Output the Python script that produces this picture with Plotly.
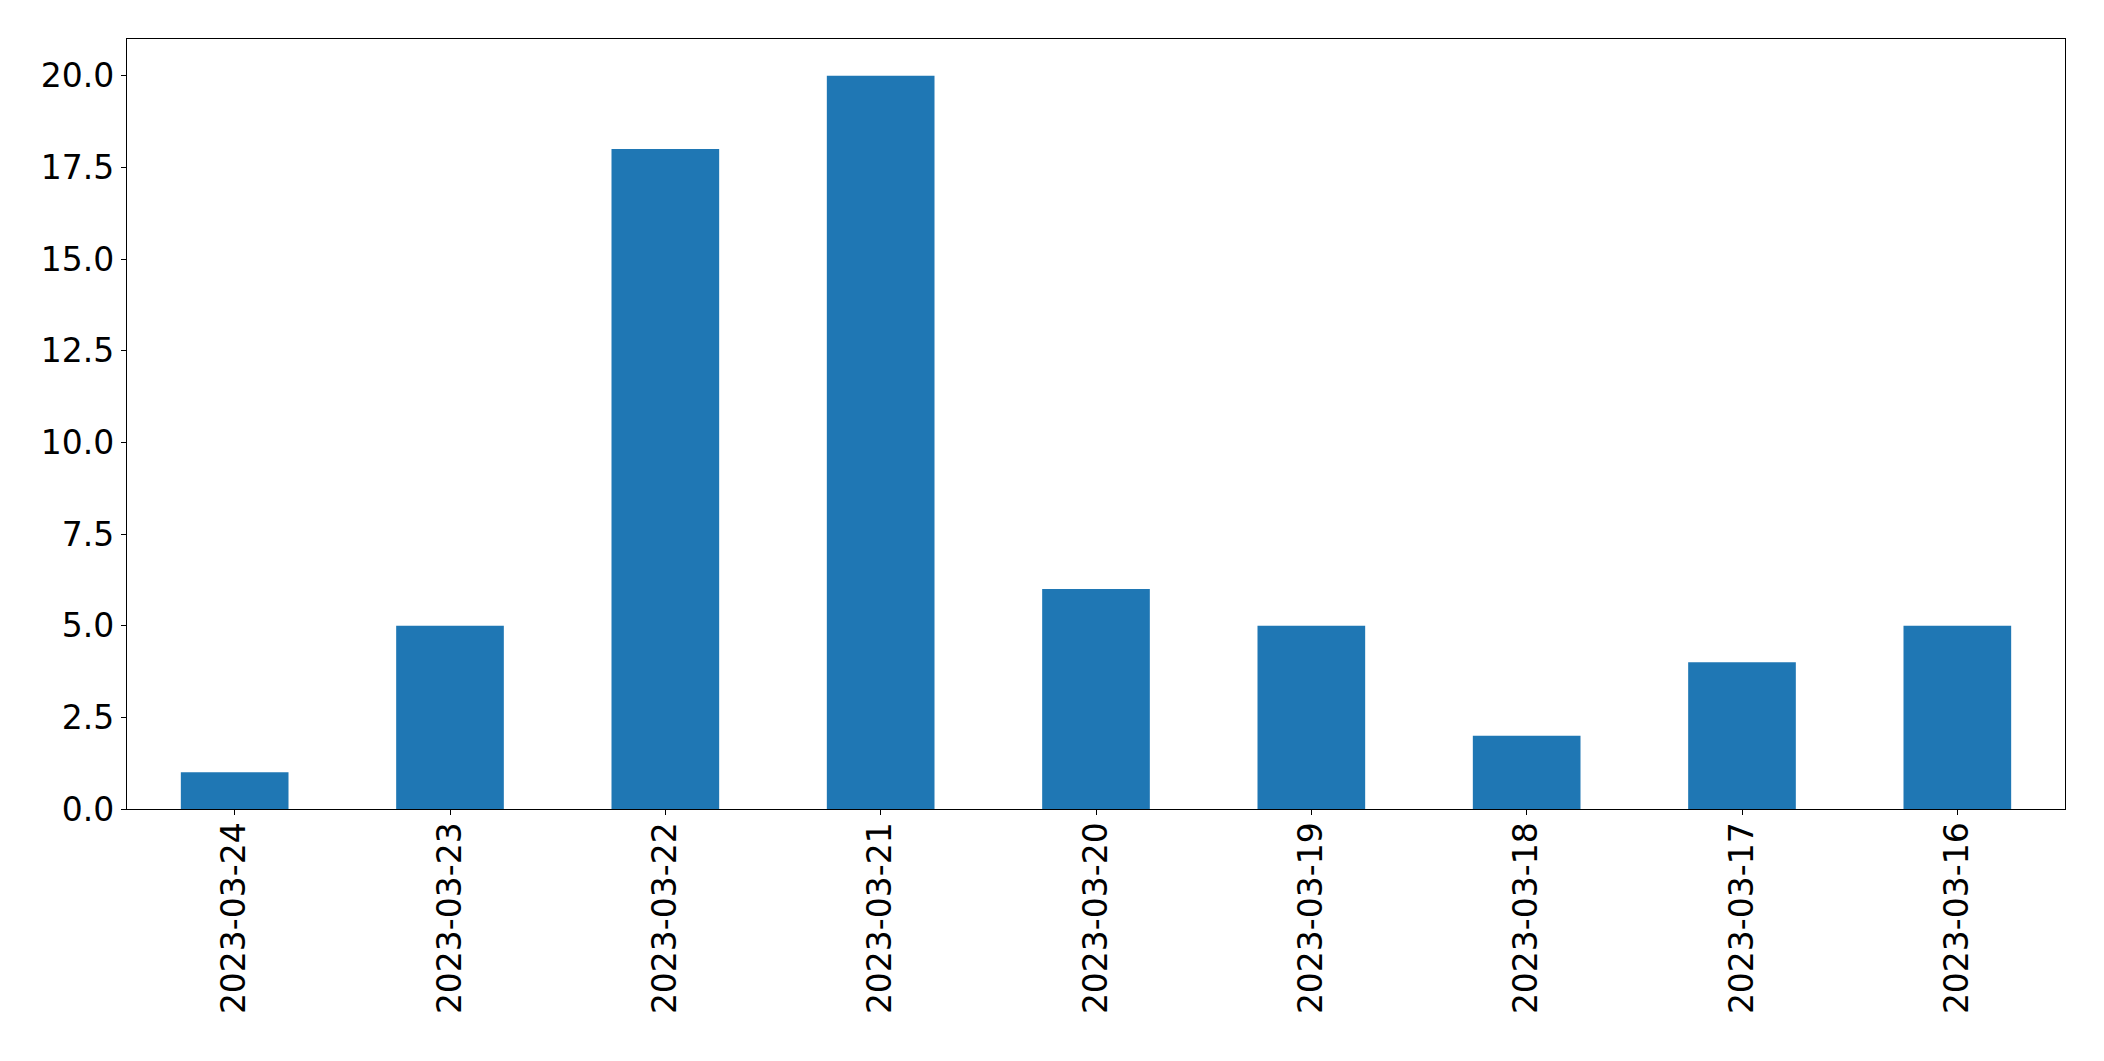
import plotly.graph_objects as go

dates = ["2023-03-24", "2023-03-23", "2023-03-22", "2023-03-21", "2023-03-20",
         "2023-03-19", "2023-03-18", "2023-03-17", "2023-03-16"]
counts = [1, 5, 18, 20, 6, 5, 2, 4, 5]

fig = go.Figure(go.Bar(x=dates, y=counts, marker=dict(color="#1f77b4", line=dict(width=0))))

axis_common = dict(
    showline=True, linecolor="black", linewidth=1.3, mirror=True,
    ticks="outside", ticklen=5, tickwidth=1.3, tickcolor="black",
    showgrid=False, zeroline=False,
    tickfont=dict(family="DejaVu Sans", size=33, color="black"),
)

fig.update_layout(
    width=2088, height=1045,
    margin=dict(l=119, r=31, t=31, b=244),
    paper_bgcolor="white", plot_bgcolor="white",
    bargap=0.5, showlegend=False,
    xaxis=dict(type="category", range=[-0.5, 8.5], tickangle=-90,
               ticklabelstandoff=-6, **axis_common),
    yaxis=dict(range=[0, 21], dtick=2.5, tick0=0, tickformat=".1f", **axis_common),
)

fig.write_html("out.html")
